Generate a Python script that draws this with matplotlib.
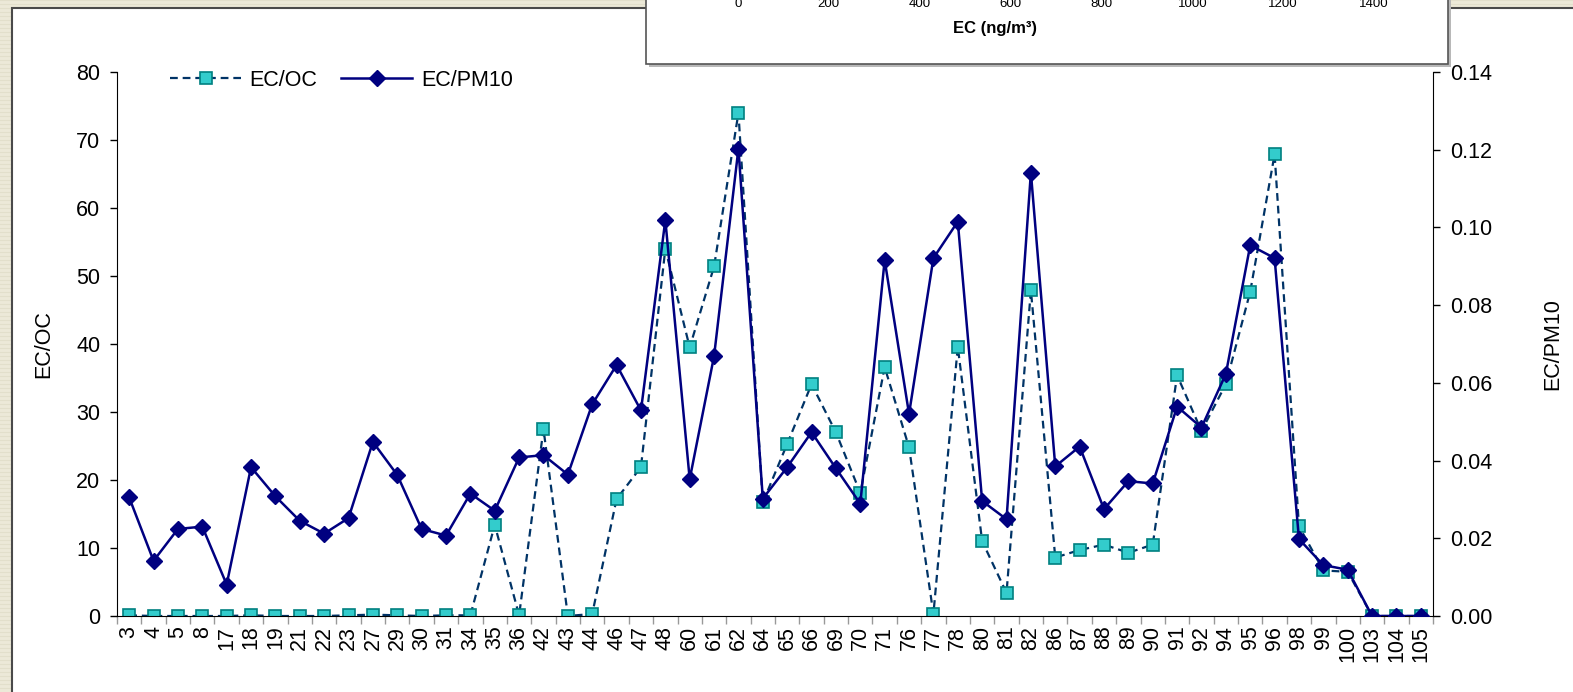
import numpy as np
import matplotlib
matplotlib.use("Agg")
import matplotlib.pyplot as plt
from matplotlib.lines import Line2D
from matplotlib.patches import Rectangle

plt.rcParams['font.family'] = ['Liberation Sans', 'DejaVu Sans']

# sample ids along the x axis
samples = ['3', '4', '5', '8', '17', '18', '19', '21', '22', '23',
           '27', '29', '30', '31', '34', '35', '36', '42', '43', '44',
           '46', '47', '48', '60', '61', '62', '64', '65', '66', '69',
           '70', '71', '76', '77', '78', '80', '81', '82', '86', '87',
           '88', '89', '90', '91', '92', '94', '95', '96', '98', '99',
           '100', '103', '104', '105']

ec_oc = [0.1, 0.0, 0.0, 0.0, 0.0, 0.1, 0.0, 0.0, 0.0, 0.1,
         0.2, 0.1, 0.0, 0.1, 0.1, 13.4, 0.1, 27.5, 0.0, 0.3,
         17.2, 21.9, 54.0, 39.5, 51.4, 74.0, 16.7, 25.3, 34.1, 27.0,
         18.1, 36.6, 24.8, 0.3, 39.6, 11.0, 3.4, 47.9, 8.6, 9.7,
         10.5, 9.3, 10.5, 35.4, 27.2, 34.1, 47.7, 67.9, 13.2, 6.7,
         6.5, 0.0, 0.0, 0.0]

ec_pm10 = [0.0305, 0.0142, 0.0224, 0.0230, 0.0081, 0.0383, 0.0308, 0.0245, 0.0212, 0.0252,
           0.0448, 0.0363, 0.0224, 0.0207, 0.0315, 0.0271, 0.0408, 0.0414, 0.0364, 0.0545,
           0.0646, 0.0529, 0.1019, 0.0352, 0.0669, 0.1203, 0.0302, 0.0383, 0.0473, 0.0380,
           0.0289, 0.0916, 0.0520, 0.0921, 0.1015, 0.0296, 0.0249, 0.1141, 0.0385, 0.0436,
           0.0275, 0.0347, 0.0341, 0.0539, 0.0485, 0.0623, 0.0954, 0.0921, 0.0198, 0.0131,
           0.0119, 0.0, 0.0, 0.0]

ec_ticks = [0, 200, 400, 600, 800, 1000, 1200, 1400]

W, H = 1573, 692
FS = 15.5
fig = plt.figure(figsize=(W / 100, H / 100), dpi=100, facecolor='#ECE9D8')

# striped backdrop
for yy in np.arange(0, H, 4):
    fig.add_artist(Line2D([0, 1], [1 - yy / H, 1 - yy / H], color='#E2DFCB', lw=0.8, zorder=-3))

# white chart area with dark border
fig.add_artist(Rectangle((12 / W, -0.1), 1.2, 1 - 8 / H + 0.1, facecolor='white',
                         edgecolor='#4A4A4A', lw=1.5, zorder=-2))

# neighbouring chart panel at the top
fig.add_artist(Rectangle((649 / W, 1 - 67 / H), (1448 - 646) / W, 0.2, facecolor='#B8B8B8',
                         edgecolor='none', zorder=-1))
fig.add_artist(Rectangle((646 / W, 1 - 64 / H), (1448 - 646) / W, 0.2, facecolor='white',
                         edgecolor='#555555', lw=1.2, zorder=-1))
ax_in = fig.add_axes([738 / W, 1 + 5 / H, (1374 - 738) / W, 0.05])
ax_in.set_xlim(0, 1400)
ax_in.set_xticks(ec_ticks)
ax_in.set_yticks([])
ax_in.tick_params(axis='x', length=0, pad=2, labelsize=9.5)
for s in ax_in.spines.values():
    s.set_visible(False)
ax_in.patch.set_visible(False)
fig.text(995 / W, 1 - 29 / H, 'EC (ng/m³)', ha='center', va='center',
         fontsize=12, fontweight='bold')

# main chart
ax = fig.add_axes([117 / W, 1 - 616 / H, (1433 - 117) / W, (616 - 72) / H])
ax.patch.set_visible(False)
ax2 = ax.twinx()
x = np.arange(len(samples))

l1, = ax.plot(x, ec_oc, color='#003366', lw=1.6, linestyle=(0, (3.5, 2.2)),
              marker='s', markersize=8, markerfacecolor='#33CCCC',
              markeredgecolor='#008080', markeredgewidth=1.2, label='EC/OC')
l2, = ax2.plot(x, ec_pm10, color='#000080', lw=1.8, marker='D', markersize=8,
               markerfacecolor='#000080', markeredgecolor='#000080', label='EC/PM10')

ax.set_xlim(-0.5, len(samples) - 0.5)
ax.set_ylim(0, 80)
ax.set_yticks(np.arange(0, 81, 10))
ax2.set_ylim(0, 0.14)
ax2.set_yticks(np.arange(0, 0.141, 0.02))
ax2.set_yticklabels([f"{v:.2f}" for v in np.arange(0, 0.141, 0.02)])

ax.set_xticks(x)
ax.set_xticklabels(samples, rotation=90)
ax.set_xticks(np.arange(-0.5, len(samples), 1), minor=True)
ax.tick_params(axis='x', which='major', length=0, pad=7, labelsize=FS)
ax.tick_params(axis='x', which='minor', length=6, color='#999999', width=1)
ax.tick_params(axis='y', length=5, width=1, pad=7, labelsize=FS)
ax2.tick_params(axis='y', length=5, width=1, pad=7, labelsize=FS)

for a in (ax, ax2):
    a.spines['top'].set_visible(False)
ax.spines['right'].set_visible(False)
ax2.spines['left'].set_visible(False)
ax2.spines['bottom'].set_visible(False)

ax.set_ylabel('EC/OC', fontsize=FS, labelpad=16)
ax2.set_ylabel('EC/PM10', fontsize=FS, labelpad=36)

fig.legend(handles=[l1, l2], loc='center left', bbox_to_anchor=(170 / W, 1 - 80 / H),
           ncol=2, frameon=False, fontsize=FS, handlelength=3.3, handletextpad=0.4,
           columnspacing=1.1, borderpad=0, borderaxespad=0)

fig.savefig('out.png', dpi=100, facecolor=fig.get_facecolor())
